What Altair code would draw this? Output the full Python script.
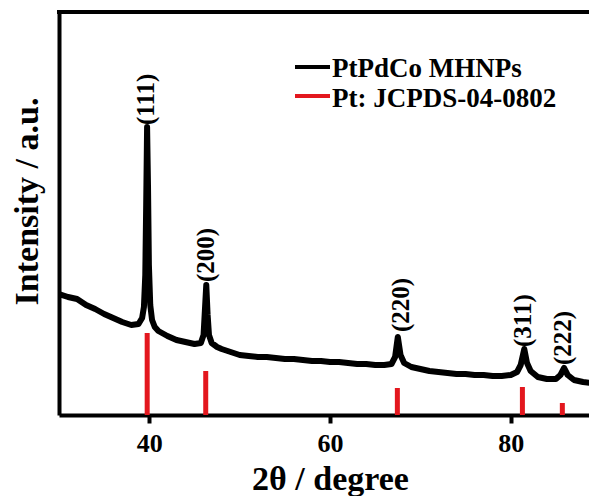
import altair as alt
import pandas as pd

# XRD pattern of PtPdCo MHNPs (intensity in arbitrary units)
two_theta = [30.0, 31.0, 32.0, 33.0, 34.0, 35.0, 36.0, 37.0, 38.0, 38.8,
             39.2, 39.4, 39.55, 39.65, 39.75, 39.85, 39.95, 40.1, 40.3, 40.6,
             41.0, 42.0, 43.0, 44.0, 45.0, 45.7, 46.0, 46.15, 46.3, 46.45,
             46.6, 46.9, 47.5, 48.0, 49.0, 50.0, 51.0, 52.0, 53.0, 54.0,
             55.0, 56.0, 57.0, 58.0, 59.0, 60.0, 61.0, 62.0, 63.0, 64.0,
             65.0, 66.0, 66.8, 67.2, 67.5, 67.8, 68.2, 69.0, 70.0, 71.0,
             72.0, 73.0, 74.0, 75.0, 76.0, 77.0, 78.0, 79.0, 80.0, 80.7,
             81.1, 81.5, 81.8, 82.2, 83.0, 84.0, 85.0, 85.5, 85.9, 86.3,
             87.0, 88.0, 89.0, 89.6]
intensity = [121, 118, 116, 110, 106, 101, 97, 93, 90, 91,
             97, 108, 140, 210, 288, 230, 150, 110, 95, 88,
             84, 79, 75, 73, 71, 72, 80, 105, 130, 100,
             80, 72, 68, 66, 63, 60, 59, 58, 58, 57,
             56, 56, 55, 54, 54, 53, 53, 52, 51, 51,
             50, 50, 51, 58, 78, 60, 52, 48, 46, 44,
             43, 42, 41, 41, 40, 40, 39, 39, 40, 43,
             50, 66, 52, 44, 38, 36, 36, 40, 47, 40,
             35, 33, 32, 32]

# Reference pattern Pt: JCPDS-04-0802
ref_pos = [39.76, 46.24, 67.45, 81.29, 85.71]
ref_int = [82, 44, 27, 28, 12]

# Peak labels
hkl = ["(111)", "(200)", "(220)", "(311)", "(222)"]
hkl_x = [39.6, 46.3, 67.9, 81.4, 85.8]
hkl_y = [290, 133, 83, 68, 50]

# Legend entries
series = ["PtPdCo MHNPs", "Pt: JCPDS-04-0802"]
series_colors = ["#000000", "#e3171e"]

xrd = pd.DataFrame({"x": two_theta, "y": intensity})
ref = pd.DataFrame({"x": ref_pos, "y0": [0] * len(ref_pos), "y": ref_int})
lab = pd.DataFrame({"x": hkl_x, "y": hkl_y, "t": hkl})

FONT = "Liberation Serif"
W, H = 530, 403
PX_PER_DEG = 9.035

xs = alt.Scale(domain=[30, 30 + W / PX_PER_DEG], nice=False, zero=False)
ys = alt.Scale(domain=[0, 403], nice=False, zero=False)

x_axis = alt.Axis(values=[40, 60, 80], title="2θ / degree", grid=False,
                  domainColor="black", domainWidth=4, tickColor="black",
                  tickWidth=4, tickSize=8, labelFont=FONT, labelFontSize=26,
                  labelFontWeight="bold", labelColor="black", labelPadding=28,
                  labelBaseline="alphabetic",
                  titleFont=FONT, titleFontSize=34, titleFontWeight="bold",
                  titleColor="black", titleBaseline="alphabetic",
                  titleX=271, titleY=74)
y_axis = alt.Axis(values=[], labels=False, ticks=False, grid=False,
                  title="Intensity / a.u.", domainColor="black", domainWidth=4,
                  titleFont=FONT, titleFontSize=34, titleFontWeight="bold",
                  titleColor="black", titleBaseline="middle", titleAngle=270,
                  titleX=-32, titleY=189)

line = alt.Chart(xrd).mark_line(strokeWidth=6, clip=True, color="black",
                                strokeJoin="round").encode(
    x=alt.X("x:Q", scale=xs, axis=x_axis),
    y=alt.Y("y:Q", scale=ys, axis=y_axis),
)

rules = alt.Chart(ref).mark_rule(strokeWidth=5, color=series_colors[1]).encode(
    x=alt.X("x:Q", scale=xs),
    y=alt.Y("y0:Q", scale=ys),
    y2="y:Q",
)

labels = alt.Chart(lab).mark_text(angle=270, align="left", baseline="middle",
                                   font=FONT, fontSize=25, fontWeight="bold",
                                   color="black").encode(
    x=alt.X("x:Q", scale=xs),
    y=alt.Y("y:Q", scale=ys),
    text="t:N",
)

top_border = alt.Chart(pd.DataFrame({"a": [0]})).mark_rect(color="black").encode(
    x=alt.value(-2), x2=alt.value(W), y=alt.value(-2), y2=alt.value(2))

# manual legend
leg_layers = []
for i, (name, col) in enumerate(zip(series, series_colors)):
    d = pd.DataFrame({"name": [name]})
    yy = 55 + 29 * i
    leg_layers.append(alt.Chart(d).mark_rect(color=col).encode(
        x=alt.value(236), x2=alt.value(271),
        y=alt.value(yy - 2), y2=alt.value(yy + 2)))
    leg_layers.append(alt.Chart(d).mark_text(
        align="left", baseline="alphabetic", font=FONT, fontSize=27,
        fontWeight="bold", color="black").encode(
        x=alt.value(273), y=alt.value(65 + 30 * i), text="name:N"))

chart = alt.layer(rules, line, labels, top_border, *leg_layers).properties(
    width=W, height=H,
    padding={"left": 51, "top": 4, "right": 0, "bottom": 81},
    autosize=alt.AutoSizeParams(type="none"),
).configure_view(stroke=None).configure(background="white")

chart.save("out.html", embed_options={"renderer": "svg", "actions": False})
